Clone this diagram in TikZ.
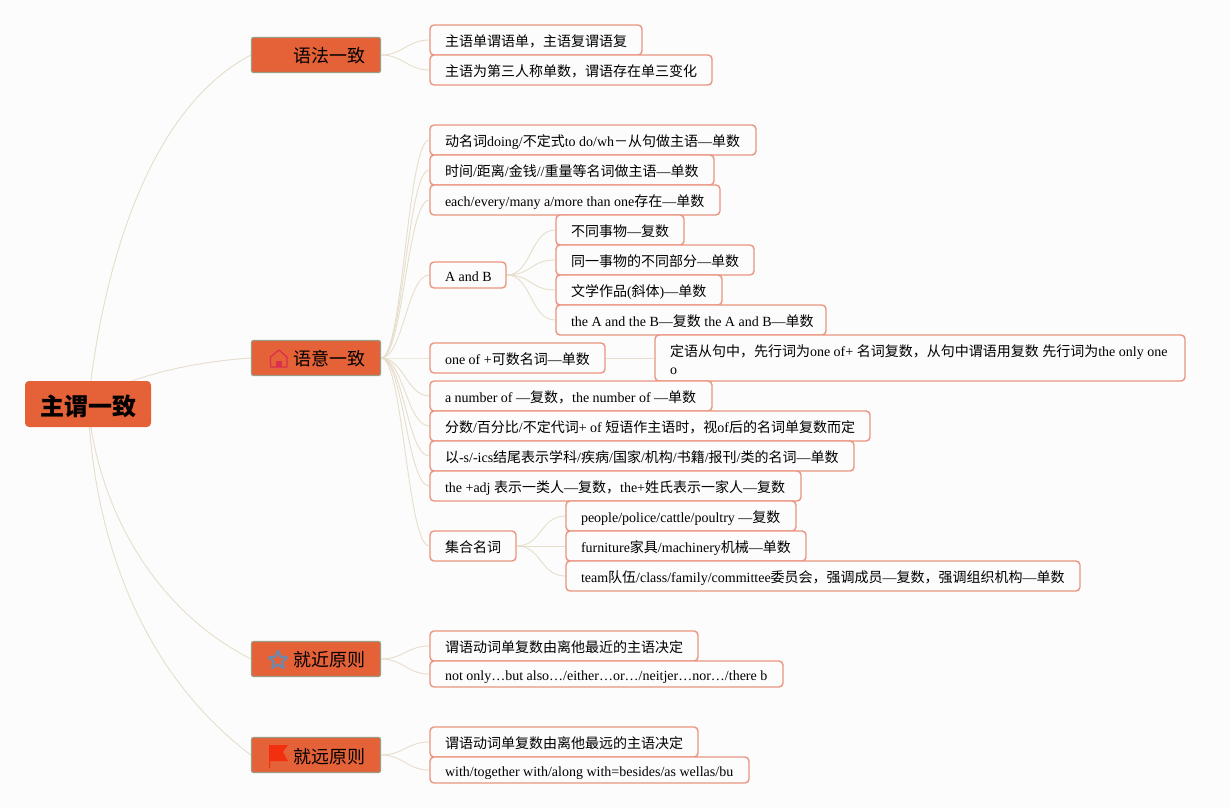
\documentclass[tikz,border=0pt]{standalone}
\usepackage{fontspec}
\setmainfont{Liberation Serif}
\newfontfamily\zh{Noto Sans CJK SC}
\newcommand{\Z}[1]{{\zh #1}}
\newcommand{\nb}[1]{\makebox[0pt][l]{\spaceskip=0pt\xspaceskip=0pt #1}}
\usetikzlibrary{backgrounds}
\definecolor{bgc}{HTML}{FCFCFC}
\definecolor{edgec}{HTML}{E6DECB}
\definecolor{leafb}{HTML}{E9957F}
\definecolor{mainf}{HTML}{E56137}
\definecolor{mainb}{HTML}{9C9C84}
\definecolor{houseC}{HTML}{D9304F}
\definecolor{starC}{HTML}{6F87A8}
\definecolor{flagC}{HTML}{F2300F}
\tikzset{
 x=1pt,y=-1pt,
 conn/.style={draw=edgec,line width=0.9pt},
 leaf/.style={draw=leafb,line width=1.4pt,fill=bgc,rounded corners=4pt,inner xsep=15pt,inner ysep=0pt,align=left,font=\fontsize{14}{18}\selectfont},
 oneline/.style={text height=14pt,text depth=0.5pt},
 mainnode/.style={draw=mainb,line width=1.2pt,fill=mainf,rounded corners=2pt,minimum width=129pt,minimum height=35pt},
 maintext/.style={font=\zh\fontsize{18}{22}\selectfont,inner sep=0pt},
}
\newcommand{\leaf}[6]{%
 \pgfmathsetmacro{\lw}{#4-#2}\pgfmathsetmacro{\lh}{#5-#3}\pgfmathsetmacro{\lt}{#4-#2-30}%
 \pgfmathsetmacro{\lx}{(#4+#2)/2}\pgfmathsetmacro{\ly}{(#5+#3)/2}%
 \node[leaf,oneline,minimum width=\lw pt,minimum height=\lh pt,text width=\lt pt] (#1) at (\lx,\ly) {\nb{#6}};}
\newcommand{\link}[3][22]{\draw[conn] (#2.east) .. controls +(#1,0) and +(-#1,0) .. (#3.west);}
\begin{document}
\begin{tikzpicture}
\useasboundingbox (0,0) rectangle (1230,808);
% root and main branches
\node[fill=mainf,rounded corners=4pt,minimum width=126pt,minimum height=46pt,inner sep=0pt,text height=22.5pt,text depth=0.5pt,font=\zh\fontsize{24}{28}\selectfont\bfseries] (root) at (88,404) {主谓一致};
\node[mainnode] (m1) at (316,55) {};
\node[mainnode] (m2) at (316,358) {};
\node[mainnode] (m3) at (316,659) {};
\node[mainnode] (m4) at (316,755) {};
\node[maintext] (t1) at (329,56) {语法一致};
\node[maintext] (t2) at (329,359) {语意一致};
\node[maintext] (t3) at (329,660) {就近原则};
\node[maintext] (t4) at (329,757) {就远原则};
% icons
\draw[draw=houseC,line width=1.3pt,line join=round] (270.5,367) -- (270.5,357) -- (279,350) -- (287,357) -- (287,367) -- cycle;
\fill[houseC] (276,367) rectangle (282,361);
\draw[draw=starC,line width=2.4pt,line join=round] (278,651) -- (280.6,656.6) -- (287,657.4) -- (282.3,661.6) -- (283.6,667.8) -- (278,664.7) -- (272.4,667.8) -- (273.7,661.6) -- (269,657.4) -- (275.4,656.6) -- cycle;
\fill[flagC] (269,745) -- (288,745) -- (283,752) -- (288,761) -- (270.2,761) -- (270.2,768) -- (269,768) -- cycle;
% leaves
\leaf{a1}{430}{25}{642}{55}{\Z{主语单谓语单，主语复谓语复}}
\leaf{a2}{430}{55}{712}{85}{\Z{主语为第三人称单数，谓语存在单三变化}}
\leaf{b1}{430}{125}{756}{155}{\Z{动名词}doing/\Z{不定式}to do/wh\Z{－从句做主语}—\Z{单数}}
\leaf{b2}{430}{155}{714}{185}{\Z{时间}/\Z{距离}/\Z{金钱}//\Z{重量等名词做主语}—\Z{单数}}
\leaf{b3}{430}{185}{720}{215}{each/every/many a/more than one\Z{存在}—\Z{单数}}
\leaf{ab}{430}{262}{506}{288}{A and B}
\leaf{ab1}{556}{215}{684}{245}{\Z{不同事物}—\Z{复数}}
\leaf{ab2}{556}{245}{754}{275}{\Z{同一事物的不同部分}—\Z{单数}}
\leaf{ab3}{556}{275}{722}{305}{\Z{文学作品}(\Z{斜体})—\Z{单数}}
\leaf{ab4}{556}{305}{826}{335}{the A and the B—\Z{复数} the A and B—\Z{单数}}
\leaf{oo}{430}{343}{605}{373}{one of +\Z{可数名词}—\Z{单数}}
\node[leaf,minimum width=530pt,minimum height=46pt,text width=500pt] (oo1) at (920,358) {\rule{0pt}{14.5pt}\nb{\Z{定语从句中，先行词为}one of+ \Z{名词复数，从句中谓语用复数} \Z{先行词为}the only one}\\o};
\leaf{c1}{430}{381}{712}{411}{a number of —\Z{复数，}the number of —\Z{单数}}
\leaf{c2}{430}{411}{870}{441}{\Z{分数}/\Z{百分比}/\Z{不定代词}+ of \Z{短语作主语时，视}of\Z{后的名词单复数而定}}
\leaf{c3}{430}{441}{854}{471}{\Z{以}-s/-ics\Z{结尾表示学科}/\Z{疾病}/\Z{国家}/\Z{机构}/\Z{书籍}/\Z{报刊}/\Z{类的名词}—\Z{单数}}
\leaf{c4}{430}{471}{801}{501}{the +adj \Z{表示一类人}—\Z{复数，}the+\Z{姓氏表示一家人}—\Z{复数}}
\leaf{jh}{430}{531}{516}{561}{\Z{集合名词}}
\leaf{jh1}{566}{501}{796}{531}{people/police/cattle/poultry —\Z{复数}}
\leaf{jh2}{566}{531}{806}{561}{furniture\Z{家具}/machinery\Z{机械}—\Z{单数}}
\leaf{jh3}{566}{561}{1080}{591}{team\Z{队伍}/class/family/committee\Z{委员会，强调成员}—\Z{复数，强调组织机构}—\Z{单数}}
\leaf{d1}{430}{631}{698}{661}{\Z{谓语动词单复数由离他最近的主语决定}}
\leaf{d2}{430}{661}{783}{687}{not only…but also…/either…or…/neitjer…nor…/there b}
\leaf{e1}{430}{727}{698}{757}{\Z{谓语动词单复数由离他最远的主语决定}}
\leaf{e2}{430}{757}{749}{783}{with/together with/along with=besides/as wellas/bu}
% connectors and page colour behind everything
\begin{scope}[on background layer]
\fill[bgc] (0,0) rectangle (1230,808);
\draw[conn] (root.center) .. controls (108,225) and (165,100) .. (m1.west);
\draw[conn] (root.center) .. controls (120,378) and (190,362) .. (m2.west);
\draw[conn] (root.center) .. controls (98,510) and (155,610) .. (m3.west);
\draw[conn] (root.center) .. controls (94,545) and (145,675) .. (m4.west);
\foreach \p/\c in {m1/a1,m1/a2,m2/b1,m2/b2,m2/b3,m2/ab,m2/oo,m2/c1,m2/c2,m2/c3,m2/c4,m2/jh,m3/d1,m3/d2,m4/e1,m4/e2}{\link{\p}{\c}}
\foreach \c in {ab1,ab2,ab3,ab4}{\link[25]{ab}{\c}}
\foreach \c in {jh1,jh2,jh3}{\link[25]{jh}{\c}}
\link[25]{oo}{oo1}
\end{scope}
\end{tikzpicture}
\end{document}
